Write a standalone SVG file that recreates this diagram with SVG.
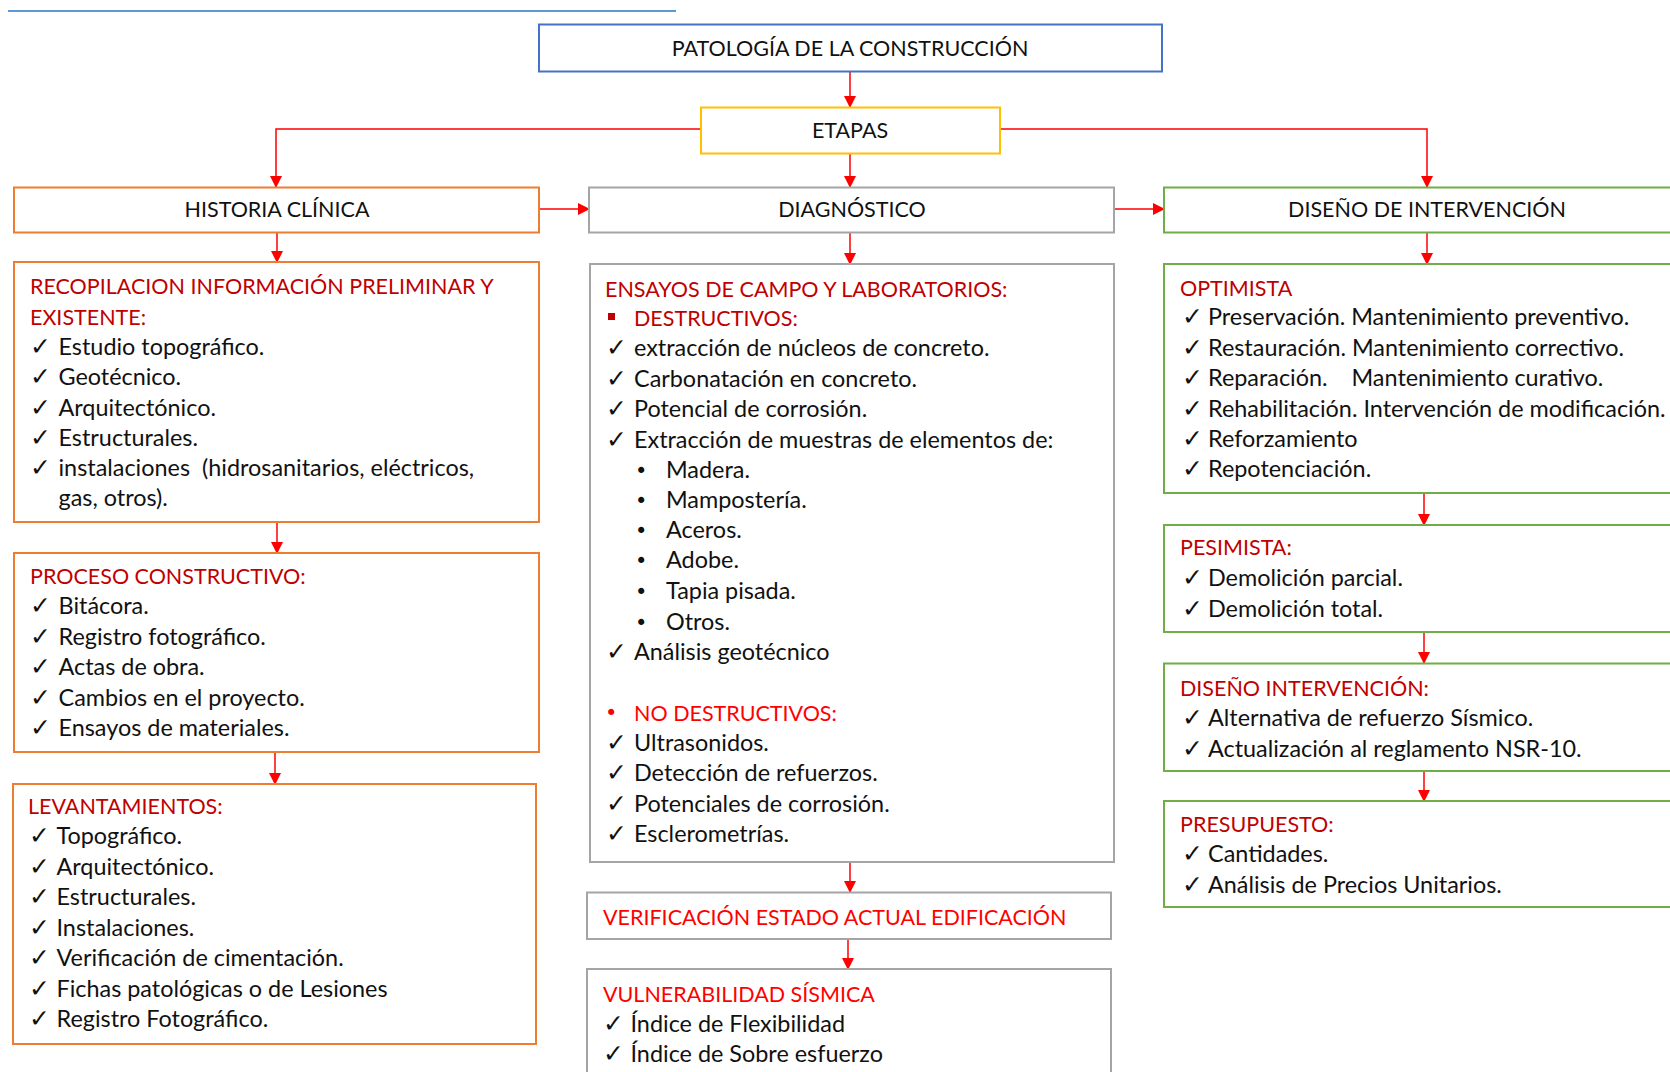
<svg xmlns="http://www.w3.org/2000/svg" width="1670" height="1072" viewBox="0 0 1670 1072">
<style>
.box{fill:#fff;stroke-width:2}
.o{stroke:#ed7d31}.g{stroke:#a5a5a5}.gr{stroke:#70ad47}
.t{font-family:Lato,"Liberation Sans",sans-serif;font-size:23.4px;fill:#111}
.k{font-family:Lato,"Liberation Sans",sans-serif;font-size:21.5px;fill:#111}
.h{font-family:Lato,"Liberation Sans",sans-serif;font-size:21.5px;fill:#111;text-anchor:middle}
.r{fill:#c00000}.rb{fill:#ff0000}
.ck{font-family:"DejaVu Sans",sans-serif;font-size:25px;fill:#111}
.bu{font-family:"DejaVu Sans",sans-serif;font-size:21px;fill:#111}
.c{stroke:#ff0000;stroke-width:1.5;fill:none;marker-end:url(#ah)}
</style>
<defs>
<marker id="ah" markerUnits="userSpaceOnUse" markerWidth="12" markerHeight="12" refX="11" refY="6" orient="auto">
<path d="M0,0 L12,6 L0,12 z" fill="#ff0000"/>
</marker>
</defs>
<rect width="1670" height="1072" fill="#fff"/>
<line x1="8" y1="11" x2="676" y2="11" stroke="#5b9bd5" stroke-width="2"/>

<g id="connectors">
<path class="c" d="M850,71.5 V107"/>
<path class="c" d="M701,129 H276 V187"/>
<path class="c" d="M1000,129 H1427 V187"/>
<path class="c" d="M850,153.5 V187"/>
<path class="c" d="M539,209 H589"/>
<path class="c" d="M1114,209 H1164"/>
<path class="c" d="M277,232.5 V262"/>
<path class="c" d="M277,522 V553"/>
<path class="c" d="M275,752 V784"/>
<path class="c" d="M850,232.5 V264"/>
<path class="c" d="M850,862 V892"/>
<path class="c" d="M848,939 V969"/>
<path class="c" d="M1427,232.5 V264"/>
<path class="c" d="M1424,493 V525"/>
<path class="c" d="M1424,632 V663"/>
<path class="c" d="M1424,771 V801"/>
</g>

<g id="patologia">
<rect class="box" x="539" y="24.5" width="623" height="47" stroke="#4472c4"/>
<text class="h" x="850" y="56">PATOLOGÍA DE LA CONSTRUCCIÓN</text>
</g>
<g id="etapas">
<rect class="box" x="701" y="107.5" width="299" height="46" stroke="#ffc000"/>
<text class="h" x="850" y="138">ETAPAS</text>
</g>
<g id="historia">
<rect class="box o" x="14" y="187.5" width="525" height="45"/>
<text class="h" x="277" y="217">HISTORIA CLÍNICA</text>
</g>
<g id="diagnostico">
<rect class="box g" x="589" y="187.5" width="525" height="45"/>
<text class="h" x="852" y="217">DIAGNÓSTICO</text>
</g>
<g id="diseno">
<rect class="box gr" x="1164" y="187.5" width="520" height="45"/>
<text class="h" x="1427" y="217">DISEÑO DE INTERVENCIÓN</text>
</g>

<g id="recopilacion">
<rect class="box o" x="14" y="262" width="525" height="260"/>
<text class="k r" x="30" y="294">RECOPILACION INFORMACIÓN PRELIMINAR Y</text>
<text class="k r" x="30" y="325">EXISTENTE:</text>
<text class="ck" x="30" y="355">✓</text><text class="t" x="58.5" y="355">Estudio topográfico.</text>
<text class="ck" x="30" y="385">✓</text><text class="t" x="58.5" y="385">Geotécnico.</text>
<text class="ck" x="30" y="416">✓</text><text class="t" x="58.5" y="416">Arquitectónico.</text>
<text class="ck" x="30" y="446">✓</text><text class="t" x="58.5" y="446">Estructurales.</text>
<text class="ck" x="30" y="476">✓</text><text class="t" x="58.5" y="476" xml:space="preserve">instalaciones  (hidrosanitarios, eléctricos,</text>
<text class="t" x="58.5" y="506">gas, otros).</text>
</g>
<g id="proceso">
<rect class="box o" x="14" y="553" width="525" height="199"/>
<text class="k r" x="30" y="584">PROCESO CONSTRUCTIVO:</text>
<text class="ck" x="30" y="614">✓</text><text class="t" x="58.5" y="614">Bitácora.</text>
<text class="ck" x="30" y="645">✓</text><text class="t" x="58.5" y="645">Registro fotográfico.</text>
<text class="ck" x="30" y="675">✓</text><text class="t" x="58.5" y="675">Actas de obra.</text>
<text class="ck" x="30" y="706">✓</text><text class="t" x="58.5" y="706">Cambios en el proyecto.</text>
<text class="ck" x="30" y="736">✓</text><text class="t" x="58.5" y="736">Ensayos de materiales.</text>
</g>
<g id="levantamientos">
<rect class="box o" x="13" y="784" width="523" height="260"/>
<text class="k r" x="28" y="814">LEVANTAMIENTOS:</text>
<text class="ck" x="29" y="844">✓</text><text class="t" x="56.5" y="844">Topográfico.</text>
<text class="ck" x="29" y="875">✓</text><text class="t" x="56.5" y="875">Arquitectónico.</text>
<text class="ck" x="29" y="905">✓</text><text class="t" x="56.5" y="905">Estructurales.</text>
<text class="ck" x="29" y="936">✓</text><text class="t" x="56.5" y="936">Instalaciones.</text>
<text class="ck" x="29" y="966">✓</text><text class="t" x="56.5" y="966">Verificación de cimentación.</text>
<text class="ck" x="29" y="997">✓</text><text class="t" x="56.5" y="997">Fichas patológicas o de Lesiones</text>
<text class="ck" x="29" y="1027">✓</text><text class="t" x="56.5" y="1027">Registro Fotográfico.</text>
</g>

<g id="ensayos">
<rect class="box g" x="590" y="264" width="524" height="598"/>
<text class="k r" x="605" y="297">ENSAYOS DE CAMPO Y LABORATORIOS:</text>
<rect x="608" y="313" width="7" height="7" fill="#c00000"/>
<text class="k r" x="634" y="326">DESTRUCTIVOS:</text>
<text class="ck" x="606" y="356">✓</text><text class="t" x="634" y="356">extracción de núcleos de concreto.</text>
<text class="ck" x="606" y="387">✓</text><text class="t" x="634" y="387">Carbonatación en concreto.</text>
<text class="ck" x="606" y="417">✓</text><text class="t" x="634" y="417">Potencial de corrosión.</text>
<text class="ck" x="606" y="448">✓</text><text class="t" x="634" y="448">Extracción de muestras de elementos de:</text>
<text class="bu" x="635" y="478">•</text><text class="t" x="666" y="478">Madera.</text>
<text class="bu" x="635" y="508">•</text><text class="t" x="666" y="508">Mampostería.</text>
<text class="bu" x="635" y="538">•</text><text class="t" x="666" y="538">Aceros.</text>
<text class="bu" x="635" y="568">•</text><text class="t" x="666" y="568">Adobe.</text>
<text class="bu" x="635" y="599">•</text><text class="t" x="666" y="599">Tapia pisada.</text>
<text class="bu" x="635" y="630">•</text><text class="t" x="666" y="630">Otros.</text>
<text class="ck" x="606" y="660">✓</text><text class="t" x="634" y="660">Análisis geotécnico</text>
<text class="bu" x="605" y="720" style="fill:#ff0000">•</text><text class="k rb" x="634" y="720.5">NO DESTRUCTIVOS:</text>
<text class="ck" x="606" y="751">✓</text><text class="t" x="634" y="751">Ultrasonidos.</text>
<text class="ck" x="606" y="781">✓</text><text class="t" x="634" y="781">Detección de refuerzos.</text>
<text class="ck" x="606" y="812">✓</text><text class="t" x="634" y="812">Potenciales de corrosión.</text>
<text class="ck" x="606" y="842">✓</text><text class="t" x="634" y="842">Esclerometrías.</text>
</g>
<g id="verificacion">
<rect class="box g" x="587" y="892.5" width="524" height="46.5"/>
<text class="k rb" x="603" y="925" xml:space="preserve">VERIFICACIÓN ESTADO ACTUAL EDIFICACIÓN</text>
</g>
<g id="vulnerabilidad">
<rect class="box g" x="587" y="969" width="524" height="120"/>
<text class="k rb" x="603" y="1002">VULNERABILIDAD SÍSMICA</text>
<text class="ck" x="603" y="1031.5">✓</text><text class="t" x="630.5" y="1031.5">Índice de Flexibilidad</text>
<text class="ck" x="603" y="1062">✓</text><text class="t" x="630.5" y="1062">Índice de Sobre esfuerzo</text>
</g>

<g id="optimista">
<rect class="box gr" x="1164" y="264" width="520" height="229"/>
<text class="k r" x="1180" y="295.5">OPTIMISTA</text>
<text class="ck" x="1182" y="325">✓</text><text class="t" x="1208" y="325">Preservación. Mantenimiento preventivo.</text>
<text class="ck" x="1182" y="356">✓</text><text class="t" x="1208" y="356">Restauración. Mantenimiento correctivo.</text>
<text class="ck" x="1182" y="386">✓</text><text class="t" x="1208" y="386" xml:space="preserve">Reparación.    Mantenimiento curativo.</text>
<text class="ck" x="1182" y="417">✓</text><text class="t" x="1208" y="417">Rehabilitación. Intervención de modificación.</text>
<text class="ck" x="1182" y="447">✓</text><text class="t" x="1208" y="447">Reforzamiento</text>
<text class="ck" x="1182" y="477">✓</text><text class="t" x="1208" y="477">Repotenciación.</text>
</g>
<g id="pesimista">
<rect class="box gr" x="1164" y="525" width="520" height="107"/>
<text class="k r" x="1180" y="555">PESIMISTA:</text>
<text class="ck" x="1182" y="586">✓</text><text class="t" x="1208" y="586">Demolición parcial.</text>
<text class="ck" x="1182" y="617">✓</text><text class="t" x="1208" y="617">Demolición total.</text>
</g>
<g id="diseno-intervencion">
<rect class="box gr" x="1164" y="663.5" width="520" height="107.5"/>
<text class="k r" x="1180" y="696">DISEÑO INTERVENCIÓN:</text>
<text class="ck" x="1182" y="726">✓</text><text class="t" x="1208" y="726">Alternativa de refuerzo Sísmico.</text>
<text class="ck" x="1182" y="757">✓</text><text class="t" x="1208" y="757">Actualización al reglamento NSR-10.</text>
</g>
<g id="presupuesto">
<rect class="box gr" x="1164" y="801" width="520" height="106"/>
<text class="k r" x="1180" y="832">PRESUPUESTO:</text>
<text class="ck" x="1182" y="862">✓</text><text class="t" x="1208" y="862">Cantidades.</text>
<text class="ck" x="1182" y="893">✓</text><text class="t" x="1208" y="893">Análisis de Precios Unitarios.</text>
</g>
</svg>
